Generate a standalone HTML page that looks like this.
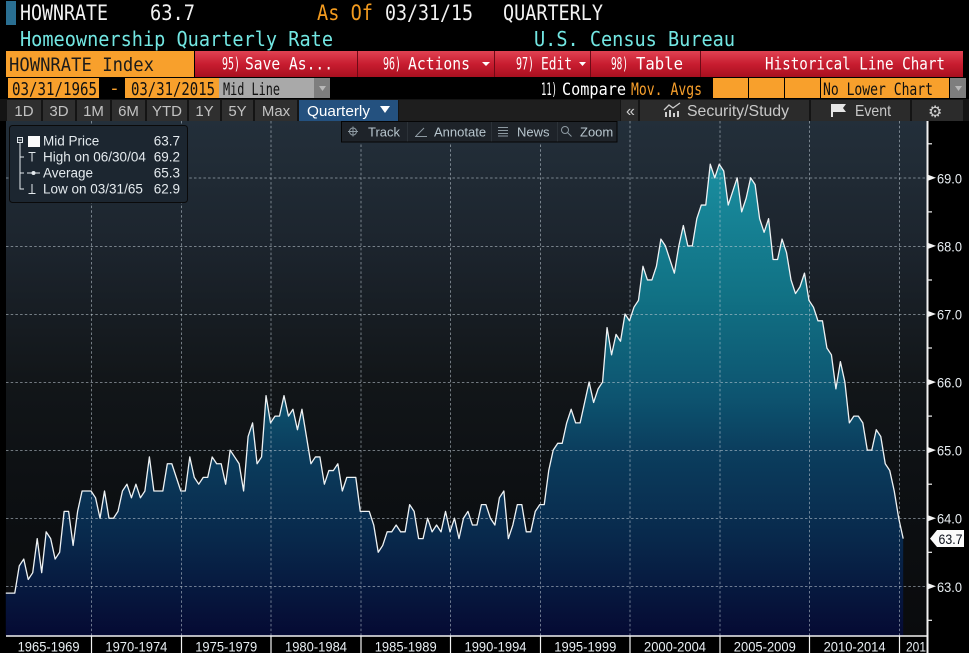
<!DOCTYPE html>
<html><head><meta charset="utf-8"><style>
html,body{margin:0;padding:0;background:#000;width:969px;height:653px;overflow:hidden}
svg{display:block}
.m{font-family:"DejaVu Sans Mono","Liberation Mono",monospace}
.s{font-family:"Liberation Sans",sans-serif}
</style></head><body>
<svg width="969" height="653" viewBox="0 0 969 653" xmlns="http://www.w3.org/2000/svg">
<defs>
<linearGradient id="bg" gradientUnits="userSpaceOnUse" x1="0" y1="121" x2="0" y2="636">
<stop offset="0" stop-color="#232f3a"/>
<stop offset="0.25" stop-color="#1c242d"/>
<stop offset="0.5" stop-color="#121619"/>
<stop offset="0.7" stop-color="#0d1013"/>
<stop offset="1" stop-color="#0a0b0d"/>
</linearGradient>
<linearGradient id="fl" gradientUnits="userSpaceOnUse" x1="0" y1="69.3" x2="0" y2="62.27">
<stop offset="0" stop-color="#1a8fa1"/>
<stop offset="0.285" stop-color="#117285"/>
<stop offset="0.5" stop-color="#0d5470"/>
<stop offset="0.61" stop-color="#0b3e5e"/>
<stop offset="0.8" stop-color="#08284b"/>
<stop offset="1" stop-color="#050a33"/>
</linearGradient>
<linearGradient id="red" x1="0" y1="0" x2="0" y2="1">
<stop offset="0" stop-color="#e04252"/>
<stop offset="0.5" stop-color="#c81d30"/>
<stop offset="1" stop-color="#a8101f"/>
</linearGradient>
</defs>

<!-- Row 1 -->
<rect x="6" y="1" width="10" height="24" fill="#2a6f92"/>
<g class="m" font-size="21" fill="#f2f2f2">
<text x="20" y="20" textLength="88" lengthAdjust="spacingAndGlyphs">HOWNRATE</text>
<text x="150" y="20" textLength="45" lengthAdjust="spacingAndGlyphs">63.7</text>
<text x="317" y="20" textLength="56" lengthAdjust="spacingAndGlyphs" fill="#f39b1f">As Of</text>
<text x="385" y="20" textLength="88" lengthAdjust="spacingAndGlyphs">03/31/15</text>
<text x="503" y="20" textLength="100" lengthAdjust="spacingAndGlyphs">QUARTERLY</text>
</g>
<!-- Row 2 -->
<g class="m" font-size="20" fill="#72e6e2">
<text x="20" y="46" textLength="313" lengthAdjust="spacingAndGlyphs">Homeownership Quarterly Rate</text>
<text x="534" y="46" textLength="201" lengthAdjust="spacingAndGlyphs">U.S. Census Bureau</text>
</g>

<!-- Row 3 -->
<rect x="6" y="51" width="188" height="26" fill="#f8a02c"/>
<text class="m" x="9" y="71" font-size="19" fill="#1b1b1b" textLength="145" lengthAdjust="spacingAndGlyphs">HOWNRATE Index</text>
<rect x="195" y="51" width="768" height="26" fill="url(#red)"/>
<g stroke="#6e0a16" stroke-width="1">
<line x1="357.5" y1="51" x2="357.5" y2="77"/>
<line x1="494.5" y1="51" x2="494.5" y2="77"/>
<line x1="590.5" y1="51" x2="590.5" y2="77"/>
<line x1="700.5" y1="51" x2="700.5" y2="77"/>
</g>
<g class="m" font-size="17" fill="#ffffff">
<text x="222" y="69.5" textLength="18" lengthAdjust="spacingAndGlyphs">95)</text>
<text x="245" y="69.5" textLength="88" lengthAdjust="spacingAndGlyphs">Save As...</text>
<text x="383" y="69.5" textLength="18" lengthAdjust="spacingAndGlyphs">96)</text>
<text x="408" y="69.5" textLength="62" lengthAdjust="spacingAndGlyphs">Actions</text>
<text x="516" y="69.5" textLength="18" lengthAdjust="spacingAndGlyphs">97)</text>
<text x="541" y="69.5" textLength="31" lengthAdjust="spacingAndGlyphs">Edit</text>
<text x="611" y="69.5" textLength="17" lengthAdjust="spacingAndGlyphs">98)</text>
<text x="636" y="69.5" textLength="47" lengthAdjust="spacingAndGlyphs">Table</text>
<text x="765" y="69.5" textLength="180" lengthAdjust="spacingAndGlyphs">Historical Line Chart</text>
</g>
<polygon points="482,62 490,62 486,66" fill="#fff"/>
<polygon points="579,62 586,62 582.5,66" fill="#fff"/>

<!-- Row 4 -->
<rect x="8" y="78" width="91" height="20" fill="#f8a02c"/>
<text class="m" x="12" y="95" font-size="18" fill="#111" textLength="85" lengthAdjust="spacingAndGlyphs">03/31/1965</text>
<text class="m" x="109" y="94" font-size="18" fill="#f8a02c">-</text>
<rect x="125" y="78" width="94" height="20" fill="#f8a02c"/>
<text class="m" x="131" y="95" font-size="18" fill="#111" textLength="84" lengthAdjust="spacingAndGlyphs">03/31/2015</text>
<rect x="219" y="78" width="95" height="20" fill="#a9a9a9"/>
<text class="m" x="223" y="95" font-size="17" fill="#111" textLength="57" lengthAdjust="spacingAndGlyphs">Mid Line</text>
<rect x="314" y="78" width="16" height="20" fill="#7e7e7e"/>
<polygon points="319,86 326,86 322.5,91" fill="#b8b8b8"/>
<g class="m" font-size="17">
<text x="541" y="95" fill="#fff" textLength="16" lengthAdjust="spacingAndGlyphs">11)</text>
<text x="562" y="95" fill="#fff" textLength="64" lengthAdjust="spacingAndGlyphs">Compare</text>
<text x="631" y="95" fill="#f8a02c" textLength="71" lengthAdjust="spacingAndGlyphs">Mov. Avgs</text>
</g>
<rect x="713" y="78" width="35" height="20" fill="#f8a02c"/>
<rect x="749" y="78" width="35" height="20" fill="#f8a02c"/>
<rect x="785" y="78" width="35" height="20" fill="#f8a02c"/>
<rect x="821" y="78" width="128" height="20" fill="#f8a02c"/>
<text class="m" x="823" y="95" font-size="17" fill="#111" textLength="110" lengthAdjust="spacingAndGlyphs">No Lower Chart</text>
<rect x="950" y="78" width="16" height="20" fill="#7e7e7e"/>
<polygon points="955,86 962,86 958.5,91" fill="#b8b8b8"/>

<!-- Row 5 -->
<rect x="0" y="99" width="969" height="22" fill="#141414"/>
<rect x="399" y="100" width="221" height="21" fill="#1e1e1e"/>
<g fill="#2f2f2f">
<rect x="7" y="100" width="34" height="21"/>
<rect x="43" y="100" width="32" height="21"/>
<rect x="77" y="100" width="33" height="21"/>
<rect x="112" y="100" width="33" height="21"/>
<rect x="147" y="100" width="40" height="21"/>
<rect x="189" y="100" width="31" height="21"/>
<rect x="222" y="100" width="31" height="21"/>
<rect x="255" y="100" width="42" height="21"/>
</g>
<rect x="299" y="100" width="99" height="21" fill="#24517f"/>
<g class="s" font-size="15" fill="#c2c2c2" text-anchor="middle">
<text x="24" y="116">1D</text>
<text x="59" y="116">3D</text>
<text x="93.5" y="116">1M</text>
<text x="128.5" y="116">6M</text>
<text x="167" y="116">YTD</text>
<text x="204.5" y="116">1Y</text>
<text x="237.5" y="116">5Y</text>
<text x="276" y="116">Max</text>
</g>
<text class="s" x="307" y="116" font-size="15" fill="#fff" textLength="63" lengthAdjust="spacingAndGlyphs">Quarterly</text>
<polygon points="380,106 390,106 385,113" fill="#fff"/>
<g fill="#2b2b2b">
<rect x="621" y="100" width="17" height="21"/>
<rect x="640" y="100" width="169" height="21"/>
<rect x="811" y="100" width="99" height="21"/>
<rect x="912" y="100" width="51" height="21"/>
</g>
<text class="s" x="626" y="116" font-size="16" fill="#cfcfcf">«</text>
<g fill="#cfcfcf">
<rect x="665" y="112" width="2" height="5"/>
<rect x="669" y="110" width="2" height="7"/>
<rect x="673" y="113" width="2" height="4"/>
<rect x="677" y="111" width="2" height="6"/>
</g>
<polyline points="664,110 669,105 673,108 680,103" fill="none" stroke="#cfcfcf" stroke-width="1.3"/>
<text class="s" x="687" y="116" font-size="16" fill="#c8c8c8" textLength="102" lengthAdjust="spacingAndGlyphs">Security/Study</text>
<rect x="831" y="104" width="2" height="13" fill="#e6e6e6"/>
<polygon points="833,104 846,104 843,108 846,112 833,112" fill="#e6e6e6"/>
<text class="s" x="855" y="116" font-size="16" fill="#c8c8c8" textLength="36" lengthAdjust="spacingAndGlyphs">Event</text>
<text x="928" y="117" font-family="DejaVu Sans, sans-serif" font-size="16" fill="#cfcfcf">⚙</text>

<!-- Chart -->
<rect x="6" y="121" width="921" height="515" fill="url(#bg)"/>
<g transform="translate(5.8,4875.34) scale(4.487,-68.08)">
<polygon fill="url(#fl)" points="0,62.27 0,62.9 1,62.9 2,62.9 3,63.3 4,63.4 5,63.1 6,63.2 7,63.7 8,63.2 9,63.8 10,63.7 11,63.4 12,63.5 13,64.1 14,64.1 15,63.6 16,64.1 17,64.4 18,64.4 19,64.4 20,64.3 21,64 22,64.4 23,64 24,64 25,64.1 26,64.4 27,64.5 28,64.3 29,64.5 30,64.3 31,64.4 32,64.9 33,64.4 34,64.4 35,64.4 36,64.8 37,64.8 38,64.6 39,64.4 40,64.4 41,64.9 42,64.6 43,64.5 44,64.6 45,64.6 46,64.9 47,64.8 48,64.8 49,64.5 50,65 51,64.9 52,64.8 53,64.4 54,65.2 55,65.4 56,64.8 57,64.9 58,65.8 59,65.4 60,65.5 61,65.5 62,65.8 63,65.5 64,65.6 65,65.3 66,65.6 67,65.2 68,64.8 69,64.9 70,64.9 71,64.5 72,64.7 73,64.7 74,64.8 75,64.4 76,64.6 77,64.6 78,64.6 79,64.1 80,64.1 81,64.1 82,63.9 83,63.5 84,63.6 85,63.8 86,63.8 87,63.9 88,63.8 89,63.8 90,64.2 91,64.1 92,63.7 93,63.7 94,64 95,63.8 96,63.9 97,63.8 98,64.1 99,63.8 100,64 101,63.7 102,64 103,64.1 104,63.9 105,63.9 106,64.2 107,64.2 108,64 109,63.9 110,64.3 111,64.4 112,63.7 113,63.9 114,64.2 115,64.2 116,63.8 117,63.8 118,64.1 119,64.2 120,64.2 121,64.7 122,65 123,65.1 124,65.1 125,65.4 126,65.6 127,65.4 128,65.4 129,65.7 130,66 131,65.7 132,65.9 133,66 134,66.8 135,66.4 136,66.7 137,66.6 138,67 139,66.9 140,67.1 141,67.2 142,67.7 143,67.5 144,67.5 145,67.7 146,68.1 147,68 148,67.8 149,67.6 150,68 151,68.3 152,68 153,68 154,68.4 155,68.6 156,68.6 157,69.2 158,69 159,69.2 160,69.1 161,68.6 162,68.8 163,69 164,68.5 165,68.7 166,69 167,68.9 168,68.4 169,68.2 170,68.4 171,67.8 172,67.8 173,68.1 174,67.9 175,67.5 176,67.3 177,67.4 178,67.6 179,67.2 180,67.1 181,66.9 182,66.9 183,66.5 184,66.4 185,65.9 186,66.3 187,66 188,65.4 189,65.5 190,65.5 191,65.4 192,65 193,65 194,65.3 195,65.2 196,64.8 197,64.7 198,64.4 199,64 200,63.7 200,62.27"/>
</g>

<!-- grid -->
<g stroke="rgba(195,205,215,0.55)" stroke-width="1" stroke-dasharray="2.5,2.2">
<line x1="6" y1="586.5" x2="927" y2="586.5"/>
<line x1="6" y1="518.5" x2="927" y2="518.5"/>
<line x1="6" y1="450.5" x2="927" y2="450.5"/>
<line x1="6" y1="382.5" x2="927" y2="382.5"/>
<line x1="6" y1="314.5" x2="927" y2="314.5"/>
<line x1="6" y1="246.5" x2="927" y2="246.5"/>
<line x1="6" y1="178" x2="927" y2="178"/>
<line x1="91.5" y1="121" x2="91.5" y2="636"/>
<line x1="181.5" y1="121" x2="181.5" y2="636"/>
<line x1="271" y1="121" x2="271" y2="636"/>
<line x1="361" y1="121" x2="361" y2="636"/>
<line x1="450.5" y1="121" x2="450.5" y2="636"/>
<line x1="540.5" y1="121" x2="540.5" y2="636"/>
<line x1="630" y1="121" x2="630" y2="636"/>
<line x1="720" y1="121" x2="720" y2="636"/>
<line x1="809.5" y1="121" x2="809.5" y2="636"/>
<line x1="899.5" y1="121" x2="899.5" y2="636"/>
</g>

<!-- line -->
<g transform="translate(5.8,4875.34) scale(4.487,-68.08)">
<polyline fill="none" stroke="#eef2f4" stroke-width="1.3" vector-effect="non-scaling-stroke" stroke-linejoin="round" points="0,62.9 1,62.9 2,62.9 3,63.3 4,63.4 5,63.1 6,63.2 7,63.7 8,63.2 9,63.8 10,63.7 11,63.4 12,63.5 13,64.1 14,64.1 15,63.6 16,64.1 17,64.4 18,64.4 19,64.4 20,64.3 21,64 22,64.4 23,64 24,64 25,64.1 26,64.4 27,64.5 28,64.3 29,64.5 30,64.3 31,64.4 32,64.9 33,64.4 34,64.4 35,64.4 36,64.8 37,64.8 38,64.6 39,64.4 40,64.4 41,64.9 42,64.6 43,64.5 44,64.6 45,64.6 46,64.9 47,64.8 48,64.8 49,64.5 50,65 51,64.9 52,64.8 53,64.4 54,65.2 55,65.4 56,64.8 57,64.9 58,65.8 59,65.4 60,65.5 61,65.5 62,65.8 63,65.5 64,65.6 65,65.3 66,65.6 67,65.2 68,64.8 69,64.9 70,64.9 71,64.5 72,64.7 73,64.7 74,64.8 75,64.4 76,64.6 77,64.6 78,64.6 79,64.1 80,64.1 81,64.1 82,63.9 83,63.5 84,63.6 85,63.8 86,63.8 87,63.9 88,63.8 89,63.8 90,64.2 91,64.1 92,63.7 93,63.7 94,64 95,63.8 96,63.9 97,63.8 98,64.1 99,63.8 100,64 101,63.7 102,64 103,64.1 104,63.9 105,63.9 106,64.2 107,64.2 108,64 109,63.9 110,64.3 111,64.4 112,63.7 113,63.9 114,64.2 115,64.2 116,63.8 117,63.8 118,64.1 119,64.2 120,64.2 121,64.7 122,65 123,65.1 124,65.1 125,65.4 126,65.6 127,65.4 128,65.4 129,65.7 130,66 131,65.7 132,65.9 133,66 134,66.8 135,66.4 136,66.7 137,66.6 138,67 139,66.9 140,67.1 141,67.2 142,67.7 143,67.5 144,67.5 145,67.7 146,68.1 147,68 148,67.8 149,67.6 150,68 151,68.3 152,68 153,68 154,68.4 155,68.6 156,68.6 157,69.2 158,69 159,69.2 160,69.1 161,68.6 162,68.8 163,69 164,68.5 165,68.7 166,69 167,68.9 168,68.4 169,68.2 170,68.4 171,67.8 172,67.8 173,68.1 174,67.9 175,67.5 176,67.3 177,67.4 178,67.6 179,67.2 180,67.1 181,66.9 182,66.9 183,66.5 184,66.4 185,65.9 186,66.3 187,66 188,65.4 189,65.5 190,65.5 191,65.4 192,65 193,65 194,65.3 195,65.2 196,64.8 197,64.7 198,64.4 199,64 200,63.7"/>
</g>

<!-- Legend -->
<rect x="9.5" y="125.5" width="178" height="77" rx="3" fill="#1c2630" stroke="#0a0a0a" stroke-width="1"/>
<rect x="17.5" y="137.5" width="5" height="5" fill="none" stroke="#e4eaee" stroke-width="1"/>
<line x1="18.5" y1="140" x2="21.5" y2="140" stroke="#e4eaee"/>
<g stroke="#e4eaee" stroke-width="1" fill="none">
<line x1="20" y1="143" x2="20" y2="189.5"/>
<line x1="20" y1="157" x2="24" y2="157"/>
<line x1="20" y1="173" x2="24" y2="173"/>
<line x1="20" y1="189" x2="24" y2="189"/>
<line x1="28.5" y1="152.5" x2="35.5" y2="152.5"/>
<line x1="32" y1="152.5" x2="32" y2="161.5"/>
<line x1="27" y1="173" x2="40" y2="173"/>
<line x1="32" y1="184" x2="32" y2="193"/>
<line x1="28.5" y1="193.5" x2="35.5" y2="193.5"/>
</g>
<circle cx="33.5" cy="173" r="2" fill="#e4eaee"/>
<rect x="28" y="136" width="12" height="11" fill="#fafafa"/>
<g class="s" font-size="13.5" fill="#e4eaee">
<text x="43" y="145.7">Mid Price</text>
<text x="43" y="161.7">High on 06/30/04</text>
<text x="43" y="177.3">Average</text>
<text x="43" y="193.3">Low on 03/31/65</text>
<g text-anchor="end">
<text x="180" y="145.7">63.7</text>
<text x="180" y="161.7">69.2</text>
<text x="180" y="177.3">65.3</text>
<text x="180" y="193.3">62.9</text>
</g>
</g>

<!-- Toolbar -->
<rect x="341.5" y="121.5" width="275.5" height="20.5" fill="#1e2329" stroke="#050505" stroke-width="1"/>
<g stroke="#2c3238"><line x1="407.5" y1="122" x2="407.5" y2="141.5"/><line x1="491.5" y1="122" x2="491.5" y2="141.5"/><line x1="557.5" y1="122" x2="557.5" y2="141.5"/></g>
<g stroke="#8e9aa2" stroke-width="1" fill="none">
<circle cx="353" cy="131.5" r="3.5"/>
<line x1="348" y1="131.5" x2="358" y2="131.5"/>
<line x1="353" y1="126.5" x2="353" y2="136.5"/>
<line x1="416" y1="136" x2="424" y2="128"/>
<line x1="415" y1="136.5" x2="427" y2="136.5"/>
<line x1="498" y1="127.5" x2="508" y2="127.5"/>
<line x1="498" y1="130.5" x2="508" y2="130.5"/>
<line x1="498" y1="133.5" x2="508" y2="133.5"/>
<line x1="498" y1="136" x2="508" y2="136"/>
<circle cx="565" cy="130" r="3.5"/>
<line x1="567.5" y1="132.5" x2="571.5" y2="136.5"/>
</g>
<g class="s" font-size="13" fill="#b8c6ce">
<text x="368" y="136.3">Track</text>
<text x="434" y="136.3">Annotate</text>
<text x="517" y="136.3">News</text>
<text x="580" y="136.3">Zoom</text>
</g>

<!-- Axes -->
<line x1="6" y1="636" x2="928" y2="636" stroke="#f2f2f2" stroke-width="1.5"/>
<line x1="927.5" y1="121" x2="927.5" y2="653" stroke="#f2f2f2" stroke-width="2"/>
<g stroke="#f2f2f2" stroke-width="1.2">
<line x1="91.5" y1="636" x2="91.5" y2="653"/>
<line x1="181.5" y1="636" x2="181.5" y2="653"/>
<line x1="271" y1="636" x2="271" y2="653"/>
<line x1="361" y1="636" x2="361" y2="653"/>
<line x1="450.5" y1="636" x2="450.5" y2="653"/>
<line x1="540.5" y1="636" x2="540.5" y2="653"/>
<line x1="630" y1="636" x2="630" y2="653"/>
<line x1="720" y1="636" x2="720" y2="653"/>
<line x1="809.5" y1="636" x2="809.5" y2="653"/>
<line x1="899.5" y1="636" x2="899.5" y2="653"/>
<line x1="928" y1="620.3" x2="932" y2="620.3"/>
<line x1="928" y1="552.3" x2="932" y2="552.3"/>
<line x1="928" y1="484.2" x2="932" y2="484.2"/>
<line x1="928" y1="416.1" x2="932" y2="416.1"/>
<line x1="928" y1="348" x2="932" y2="348"/>
<line x1="928" y1="280" x2="932" y2="280"/>
<line x1="928" y1="211.9" x2="932" y2="211.9"/>
<line x1="928" y1="143.8" x2="932" y2="143.8"/>
</g>
<g fill="#f2f2f2">
<polygon points="928,583.3 936,586.3 928,589.3"/>
<polygon points="928,515.2 936,518.2 928,521.2"/>
<polygon points="928,447.1 936,450.1 928,453.1"/>
<polygon points="928,379.1 936,382.1 928,385.1"/>
<polygon points="928,311 936,314 928,317"/>
<polygon points="928,242.9 936,245.9 928,248.9"/>
<polygon points="928,174.8 936,177.8 928,180.8"/>
</g>
<g class="s" font-size="14" fill="#e8eef2">
<text x="937" y="591.8" textLength="25" lengthAdjust="spacingAndGlyphs">63.0</text>
<text x="937" y="523.7" textLength="25" lengthAdjust="spacingAndGlyphs">64.0</text>
<text x="937" y="455.6" textLength="25" lengthAdjust="spacingAndGlyphs">65.0</text>
<text x="937" y="387.6" textLength="25" lengthAdjust="spacingAndGlyphs">66.0</text>
<text x="937" y="319.5" textLength="25" lengthAdjust="spacingAndGlyphs">67.0</text>
<text x="937" y="251.4" textLength="25" lengthAdjust="spacingAndGlyphs">68.0</text>
<text x="937" y="183.3" textLength="25" lengthAdjust="spacingAndGlyphs">69.0</text>
</g>
<polygon points="930,538.6 937,530 964,530 964,547 937,547" fill="#fafafa"/>
<text class="s" x="938.5" y="544" font-size="14" fill="#0a0f1a" textLength="24" lengthAdjust="spacingAndGlyphs">63.7</text>

<g class="s" font-size="14" fill="#e8eef2" text-anchor="middle">
<text x="48.6" y="651.5" textLength="62" lengthAdjust="spacingAndGlyphs">1965-1969</text>
<text x="136.4" y="651.5" textLength="62" lengthAdjust="spacingAndGlyphs">1970-1974</text>
<text x="226.2" y="651.5" textLength="62" lengthAdjust="spacingAndGlyphs">1975-1979</text>
<text x="316" y="651.5" textLength="62" lengthAdjust="spacingAndGlyphs">1980-1984</text>
<text x="405.7" y="651.5" textLength="62" lengthAdjust="spacingAndGlyphs">1985-1989</text>
<text x="495.5" y="651.5" textLength="62" lengthAdjust="spacingAndGlyphs">1990-1994</text>
<text x="585.3" y="651.5" textLength="62" lengthAdjust="spacingAndGlyphs">1995-1999</text>
<text x="675" y="651.5" textLength="62" lengthAdjust="spacingAndGlyphs">2000-2004</text>
<text x="764.8" y="651.5" textLength="62" lengthAdjust="spacingAndGlyphs">2005-2009</text>
<text x="854.6" y="651.5" textLength="62" lengthAdjust="spacingAndGlyphs">2010-2014</text>
</g>
<text class="s" x="906" y="651.5" font-size="14" fill="#e8eef2" textLength="20" lengthAdjust="spacingAndGlyphs">201</text>
</svg>
</body></html>
